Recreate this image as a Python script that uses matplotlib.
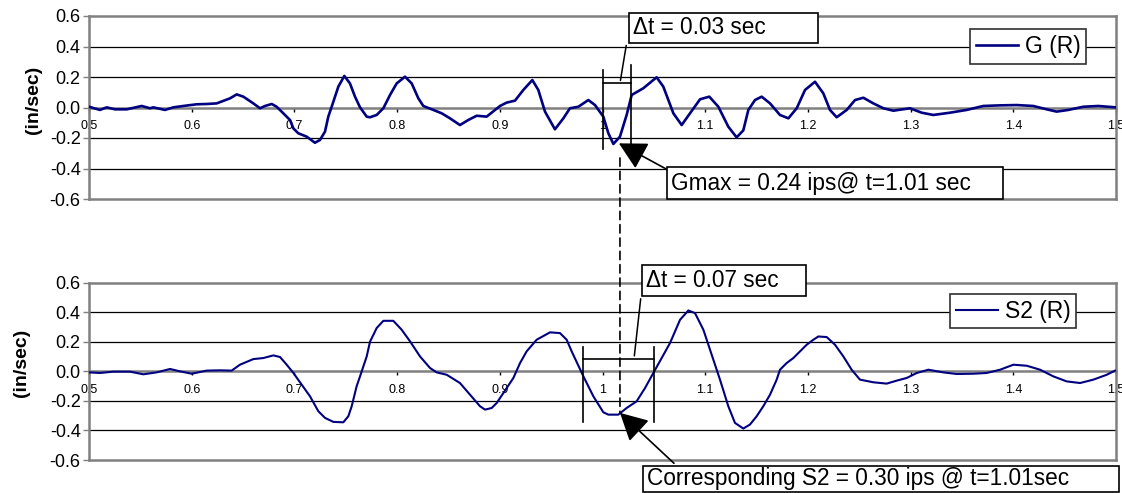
import matplotlib
matplotlib.use("Agg")
import matplotlib.pyplot as plt
from matplotlib.patches import Rectangle, ConnectionPatch
from matplotlib.ticker import FuncFormatter

plt.rcParams['font.family'] = ['Liberation Sans', 'DejaVu Sans']
plt.rcParams['axes.unicode_minus'] = False

# G (R) velocity trace
g_t = [0.500, 0.5107, 0.5172, 0.5253, 0.5367, 0.5513, 0.5594, 0.5626, 0.574, 0.5821,
       0.5919, 0.6048, 0.6146, 0.6243, 0.6373, 0.6438, 0.6503, 0.660, 0.6665, 0.6714,
       0.6779, 0.6827, 0.6892, 0.6957, 0.699, 0.7038, 0.7119, 0.720, 0.7249, 0.7298,
       0.733, 0.7363, 0.7428, 0.7486, 0.7541, 0.759, 0.7639, 0.7704, 0.7736,
       0.7801, 0.7866, 0.7931, 0.7996, 0.8077, 0.8142, 0.8207, 0.8255, 0.8353, 0.8434,
       0.8515, 0.8612, 0.8693, 0.8775, 0.8872, 0.9002, 0.9067, 0.9148, 0.9229, 0.9317,
       0.9375, 0.944, 0.9537, 0.9619, 0.9683, 0.9765, 0.9862, 0.9927, 1.0008, 1.0057,
       1.0106, 1.0170, 1.0235, 1.0284, 1.0397, 1.0527, 1.0592, 1.069, 1.0771, 1.0852,
       1.095, 1.104, 1.1128, 1.1225, 1.1306, 1.1371, 1.142, 1.1485, 1.155, 1.1631,
       1.1728, 1.181, 1.1891, 1.1972, 1.2069, 1.215, 1.2215, 1.228, 1.2378, 1.2459,
       1.254, 1.2637, 1.2735, 1.2832, 1.2994, 1.3108, 1.3221, 1.3384, 1.3546, 1.3708,
       1.387, 1.4033, 1.4195, 1.4325, 1.4422, 1.4536, 1.4682, 1.4828, 1.4997]
g_v = [0.005, -0.016, 0.001, -0.012, -0.012, 0.010, -0.005, 0.001, -0.016, 0.001,
       0.010, 0.021, 0.023, 0.027, 0.060, 0.086, 0.071, 0.027, -0.005, 0.010,
       0.023, 0.005, -0.038, -0.082, -0.137, -0.169, -0.191, -0.231, -0.213, -0.158,
       -0.060, 0.005, 0.137, 0.207, 0.158, 0.071, 0.001, -0.060, -0.064,
       -0.049, -0.005, 0.082, 0.158, 0.202, 0.158, 0.060, 0.010, -0.016, -0.038,
       -0.071, -0.115, -0.082, -0.054, -0.060, 0.010, 0.032, 0.045, 0.115, 0.180,
       0.115, -0.027, -0.143, -0.071, -0.005, 0.005, 0.049, 0.016, -0.060, -0.169,
       -0.239, -0.191, -0.049, 0.082, 0.126, 0.198, 0.137, -0.038, -0.115, -0.038,
       0.054, 0.071, 0.005, -0.126, -0.196, -0.150, -0.016, 0.049, 0.071, 0.027,
       -0.049, -0.071, -0.005, 0.115, 0.169, 0.093, -0.016, -0.064, -0.016, 0.049,
       0.064, 0.027, -0.005, -0.021, -0.005, -0.034, -0.049, -0.034, -0.016, 0.010,
       0.014, 0.016, 0.010, -0.012, -0.027, -0.016, 0.005, 0.010, 0.001]

# S2 (R) velocity trace
s2_t = [0.500, 0.5107, 0.5237, 0.5399, 0.5529, 0.5659, 0.5789, 0.5886, 0.600, 0.6146,
        0.6276, 0.6389, 0.647, 0.660, 0.6697, 0.6795, 0.686, 0.6925, 0.699, 0.7071,
        0.7152, 0.7233, 0.7298, 0.7379, 0.7476, 0.7525, 0.7558, 0.7606, 0.7639, 0.7704,
        0.7736, 0.7801, 0.7866, 0.7963, 0.8044, 0.8126, 0.8223, 0.832, 0.8385, 0.8483,
        0.8612, 0.871, 0.8807, 0.8856, 0.8921, 0.897, 0.9067, 0.9132, 0.9197, 0.9261,
        0.9359, 0.9489, 0.9586, 0.9651, 0.970, 0.9814, 0.9911, 1.0008, 1.0057, 1.0154,
        1.0235, 1.0332, 1.0414, 1.0495, 1.0576, 1.0657, 1.0755, 1.0836, 1.0901, 1.0982,
        1.1063, 1.1144, 1.1225, 1.129, 1.1371, 1.1436, 1.1501, 1.1566, 1.1631, 1.1696,
        1.1728, 1.1793, 1.1858, 1.1988, 1.2053, 1.2102, 1.2183, 1.2264, 1.2345, 1.2426,
        1.2507, 1.2637, 1.2767, 1.2864, 1.2962, 1.306, 1.3173, 1.3319, 1.3449, 1.3611,
        1.3741, 1.3871, 1.4001, 1.4131, 1.4261, 1.439, 1.452, 1.465, 1.478, 1.491, 1.4991]
s2_v = [-0.007, -0.011, -0.002, -0.002, -0.020, -0.007, 0.016, 0.000, -0.016, 0.005,
        0.007, 0.005, 0.045, 0.083, 0.090, 0.108, 0.097, 0.045, -0.011, -0.090,
        -0.169, -0.270, -0.315, -0.342, -0.345, -0.304, -0.236, -0.101, -0.034, 0.101,
        0.200, 0.293, 0.342, 0.342, 0.282, 0.203, 0.101, 0.023, -0.007, -0.023,
        -0.079, -0.158, -0.236, -0.259, -0.248, -0.214, -0.113, -0.045, 0.056, 0.135,
        0.214, 0.264, 0.259, 0.214, 0.135, -0.034, -0.169, -0.277, -0.293, -0.293,
        -0.248, -0.203, -0.113, -0.011, 0.090, 0.191, 0.349, 0.412, 0.394, 0.282,
        0.113, -0.056, -0.236, -0.349, -0.387, -0.360, -0.304, -0.236, -0.158, -0.056,
        0.011, 0.056, 0.090, 0.180, 0.214, 0.236, 0.232, 0.180, 0.101, 0.011,
        -0.056, -0.074, -0.083, -0.063, -0.045, -0.011, 0.011, -0.007, -0.018, -0.016,
        -0.011, 0.011, 0.045, 0.038, 0.011, -0.034, -0.068, -0.079, -0.056, -0.023, 0.005]

x_ticks = [0.5, 0.6, 0.7, 0.8, 0.9, 1.0, 1.1, 1.2, 1.3, 1.4, 1.5]
y_ticks = [-0.6, -0.4, -0.2, 0.0, 0.2, 0.4, 0.6]

W, H = 1122, 493
navy = '#000080'
gray = '#808080'

fig = plt.figure(figsize=(W / 100, H / 100), dpi=100)
ax1 = fig.add_axes([89 / W, 1 - 199 / H, 1027 / W, 183 / H])
ax2 = fig.add_axes([89 / W, 1 - 460 / H, 1027 / W, 177.3 / H])


def style(ax, label_x, label_y):
    ax.set_xlim(0.5, 1.5)
    ax.set_ylim(-0.6, 0.6)
    ax.set_yticks(y_ticks)
    ax.set_xticks(x_ticks)
    ax.yaxis.set_major_formatter(FuncFormatter(lambda v, p: f'{v:.1f}'))
    ax.xaxis.set_major_formatter(FuncFormatter(lambda v, p: f'{v:g}'))
    for y in [-0.4, -0.2, 0.2, 0.4]:
        ax.axhline(y, color='black', lw=0.9, zorder=1)
    ax.spines['bottom'].set_position(('data', 0))
    for s in ax.spines.values():
        s.set_color(gray)
        s.set_linewidth(1.8)
    ax.axhline(-0.6, color=gray, lw=1.8, clip_on=False, zorder=1)
    ax.tick_params(axis='y', direction='out', length=4, width=1, color=gray,
                   labelsize=13, pad=2)
    ax.tick_params(axis='x', direction='out', length=3, width=1, color='black',
                   labelsize=9, pad=6)
    ax.set_ylabel('(in/sec)', fontsize=14, fontweight='bold')
    ax.yaxis.set_label_coords(label_x, label_y)


style(ax1, -0.0458, 0.54)
style(ax2, -0.0574, 0.55)

ax1.plot(g_t, g_v, color=navy, lw=1.9, label='G (R)', zorder=3,
         solid_joinstyle='round')
ax2.plot(s2_t, s2_v, color=navy, lw=1.5, label='S2 (R)', zorder=3,
         solid_joinstyle='round')

for ax, x0, y0 in [(ax1, 970, 29.3), (ax2, 950, 294)]:
    leg = ax.legend(loc='upper left', bbox_to_anchor=(x0 / W, 1 - y0 / H),
                    bbox_transform=fig.transFigure, fontsize=16.5, frameon=True,
                    fancybox=False, framealpha=1, edgecolor='#303030',
                    borderpad=0.25, handlelength=1.85, handletextpad=0.3,
                    borderaxespad=0)
    leg.get_frame().set_linewidth(1.2)
    leg.set_zorder(5)


def text_box(x0, y0, x1, y1, text):
    fig.add_artist(Rectangle((x0 / W, 1 - y1 / H), (x1 - x0) / W, (y1 - y0) / H,
                             transform=fig.transFigure, fc='white', ec='black', lw=1.2))
    fig.text((x0 + 4) / W, 1 - (y0 + y1) / 2 / H, text, ha='left', va='center',
             fontsize=16.3)


line_kw = dict(color='black', lw=1.2, clip_on=False, zorder=4)
arrow_kw = dict(arrowstyle='-|>,head_length=0.85,head_width=0.45', color='black',
                lw=1.2, mutation_scale=20, shrinkA=0, shrinkB=0)

# top panel: bracket, leader and arrow
ax1.plot([1.0, 1.0], [-0.274, 0.246], **line_kw)
ax1.plot([1.028, 1.028], [-0.274, 0.279], **line_kw)
ax1.plot([1.0, 1.028], [0.159, 0.159], **line_kw)
ax1.annotate('', xy=(626.7, H - 42.7), xycoords='figure pixels',
             xytext=(1.017, 0.159), textcoords='data',
             arrowprops=dict(arrowstyle='-', color='black', lw=1.1))
ax1.annotate('', xy=(1.016, -0.235), xycoords='data',
             xytext=(668, H - 170), textcoords='figure pixels',
             arrowprops=arrow_kw, zorder=4)

# bottom panel: bracket, leader and arrow
ax2.plot([0.981, 0.981], [-0.345, 0.165], **line_kw)
ax2.plot([1.050, 1.050], [-0.345, 0.165], **line_kw)
ax2.plot([0.981, 1.050], [0.086, 0.086], **line_kw)
ax2.annotate('', xy=(641, H - 296), xycoords='figure pixels',
             xytext=(1.0307, 0.086), textcoords='data',
             arrowprops=dict(arrowstyle='-', color='black', lw=1.1))
ax2.annotate('', xy=(1.017, -0.281), xycoords='data',
             xytext=(674, H - 463.3), textcoords='figure pixels',
             arrowprops=arrow_kw, zorder=4)

# dashed line linking the two traces at Gmax
con = ConnectionPatch(xyA=(1.017, -0.331), coordsA=ax1.transData,
                      xyB=(1.017, -0.279), coordsB=ax2.transData,
                      linestyle=(0, (5, 3)), color='black', lw=1.2)
fig.add_artist(con)

text_box(629.3, 12.7, 818.3, 42.7, '\u0394t = 0.03 sec')
text_box(666.7, 167.3, 1003.3, 199.3, 'Gmax = 0.24 ips@ t=1.01 sec')
text_box(641.7, 265, 806, 296, '\u0394t = 0.07 sec')
text_box(643.3, 465.7, 1119.3, 491.7, 'Corresponding S2 = 0.30 ips @ t=1.01sec')

fig.savefig('out.png', dpi=100)
